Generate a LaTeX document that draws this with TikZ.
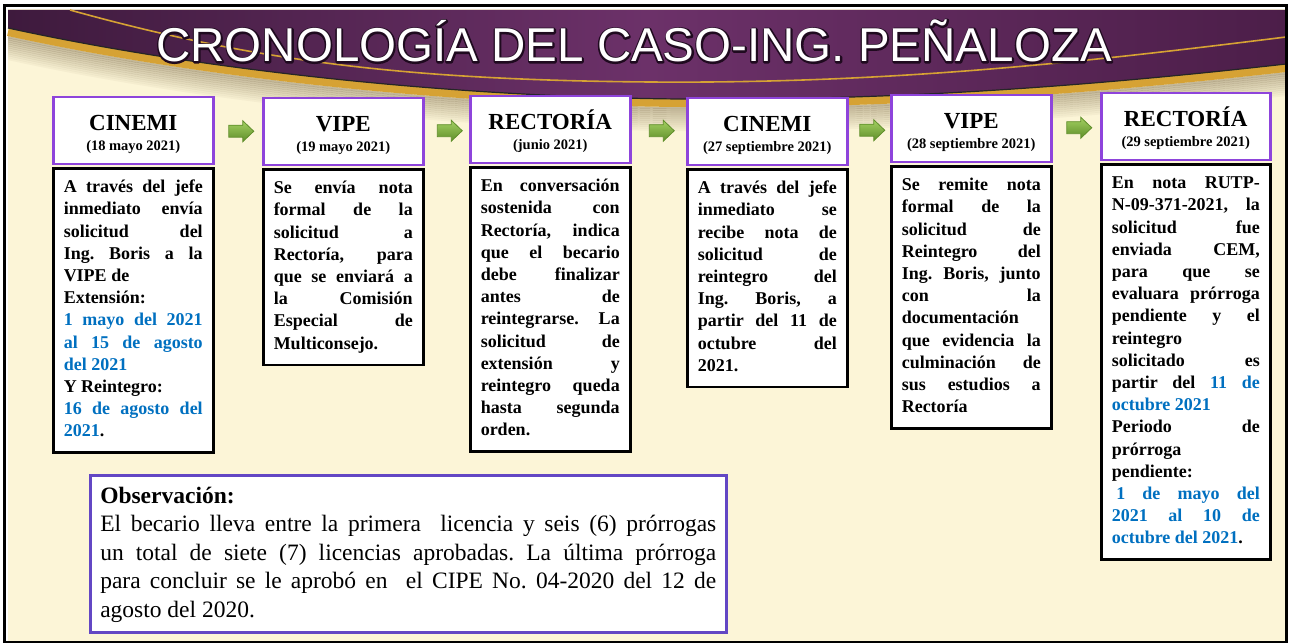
\documentclass[tikz,border=0pt]{standalone}
\usepackage{fontspec}
\setmainfont{Liberation Serif}
\newfontfamily\titlefont{Liberation Sans}
\usetikzlibrary{calc}

\definecolor{cream}{HTML}{FCF5D7}
\definecolor{hdrpurple}{HTML}{8E44DB}
\definecolor{obsviolet}{HTML}{6347C4}
\definecolor{datblue}{HTML}{0070C0}
\definecolor{banleft}{HTML}{3E1A3D}
\definecolor{banmid}{HTML}{6C3169}
\definecolor{banright}{HTML}{4C1E49}
\definecolor{gold}{HTML}{D6A234}
\definecolor{golddark}{HTML}{A8701F}
\definecolor{arrlight}{HTML}{A3D061}
\definecolor{arrdark}{HTML}{5F8E2A}

\newcommand\bannercurve{(8,-28) .. controls (200,-70) and (450,-97) .. (680,-99) .. controls (900,-101) and (1100,-85) .. (1286,-64)}
\newcommand\azul[1]{\textcolor{datblue}{#1}}
\newcommand\fecha[1]{{\fontsize{14.5}{20}\selectfont\spaceskip=0.24em\relax(#1)}}
\newcommand\strokedtext[1]{\special{pdf:literal direct 1 Tr 0.12 0.04 0.12 RG 3.2 w 1 j}#1\special{pdf:literal direct 0 Tr}}

\tolerance=10000
\hyphenpenalty=10000
\exhyphenpenalty=10000
\frenchspacing

\tikzset{
    hdr/.style={draw=hdrpurple, line width=2.5, fill=white, anchor=north west,
        minimum width=160, minimum height=67, text width=150, align=center,
        inner xsep=0, inner ysep=0, text height=33, text depth=34,
        font=\fontsize{23}{20}\selectfont\bfseries},
    body/.style={draw=black, line width=2.5, fill=white, anchor=north,
        text width=139, inner xsep=10.5, inner ysep=9, text height=15, align=justify,
        font=\fontsize{18}{22.2}\selectfont\bfseries},
    garrow/.style={top color=arrlight, bottom color=arrdark, draw=arrdark, line width=0.8, line join=miter},
    obs/.style={draw=obsviolet, line width=2.5, fill=white, anchor=north west,
        text width=616, inner xsep=10, inner ysep=10, text height=18, align=justify,
        font=\fontsize{23.5}{28.5}\selectfont},
    ttl/.style={font=\titlefont\fontsize{47.5}{50}\selectfont, anchor=base, inner sep=0}
}

\begin{document}
\begin{tikzpicture}[x=1pt, y=1pt]
    \useasboundingbox (0,0) rectangle (1289,-644);
    \fill[white] (0,0) rectangle (1289,-644);
    \fill[cream] (8,-9) rectangle (1286,-641);

    \foreach \k in {0,...,11} {
        \pgfmathsetmacro\op{0.3-0.024*\k}
        \draw[line width=2.2, draw=golddark!40!black, opacity=\op, yshift=-9-2*\k] \bannercurve;
    }
    \draw[line width=8, gold, yshift=-4] \bannercurve;
    \shade[left color=banleft, right color=banright, middle color=banmid]
        \bannercurve -- (1286,-10) -- (8,-10) -- cycle;
    \draw[line width=1.2, black!85] \bannercurve;
    \draw[gold, line width=1.6]
        (70,-10) .. controls (250,-60) and (400,-80) .. (650,-82)
        .. controls (900,-84) and (1100,-60) .. (1286,-37);

    \node[ttl] (titleedge) at (634,-62) {\strokedtext{CRONOLOGÍA DEL CASO-ING. PEÑALOZA}};
    \node[ttl, text=white] (title) at (titleedge.base) {CRONOLOGÍA DEL CASO-ING. PEÑALOZA};

    \node[hdr] (h1) at (52,-96) {CINEMI\\\fecha{18 mayo 2021}};
    \node[hdr] (h2) at (262,-97) {VIPE\\\fecha{19 mayo 2021}};
    \node[hdr] (h3) at (469,-95) {RECTORÍA\\\fecha{junio 2021}};
    \node[hdr] (h4) at (686,-97) {CINEMI\\\fecha{27 septiembre 2021}};
    \node[hdr] (h5) at (890,-94) {VIPE\\\fecha{28 septiembre 2021}};
    \node[hdr, minimum width=169] (h6) at (1100,-92) {RECTORÍA\\\fecha{29 septiembre 2021}};

    \node[body] (b1) at ([yshift=-2]h1.south) {A través del jefe\linebreak
        inmediato envía\linebreak solicitud del\linebreak Ing. Boris a la\linebreak
        VIPE de\\ Extensión:\\
        \azul{1 mayo del 2021\linebreak al 15 de agosto\linebreak del 2021}\\
        Y Reintegro:\\ \azul{16 de agosto del\linebreak 2021}.\strut};
    \node[body] (b2) at ([yshift=-2]h2.south) {Se envía nota\linebreak
        formal de la\linebreak solicitud a\linebreak Rectoría, para\linebreak
        que se enviará a\linebreak la Comisión\linebreak Especial de\linebreak
        Multiconsejo.\strut};
    \node[body] (b3) at ([yshift=-2]h3.south) {En conversación\linebreak
        sostenida con\linebreak Rectoría, indica\linebreak que el becario\linebreak
        debe finalizar\linebreak antes de\linebreak reintegrarse. La\linebreak
        solicitud de\linebreak extensión y\linebreak reintegro queda\linebreak
        hasta segunda\linebreak orden.\strut};
    \node[body] (b4) at ([yshift=-2]h4.south) {A través del jefe\linebreak
        inmediato se\linebreak recibe nota de\linebreak solicitud de\linebreak
        reintegro del\linebreak Ing. Boris, a\linebreak partir del 11 de\linebreak
        octubre del\linebreak 2021.\strut};
    \node[body] (b5) at ([yshift=-2]h5.south) {Se remite nota\linebreak
        formal de la\linebreak solicitud de\linebreak Reintegro del\linebreak
        Ing. Boris, junto\linebreak con la\linebreak documentación\\
        que evidencia la\linebreak culminación de\linebreak sus estudios a\linebreak
        Rectoría\strut};
    \node[body, text width=148] (b6) at ([yshift=-2]h6.south) {En nota RUTP-\linebreak
        N-09-371-2021, la\linebreak solicitud fue\linebreak enviada CEM,\linebreak
        para que se\linebreak evaluara prórroga\linebreak pendiente y el\linebreak
        reintegro\\ solicitado es\linebreak partir del \azul{11 de\linebreak octubre 2021}\\
        Periodo de\linebreak prórroga\\ pendiente:\\
        \hspace*{4.5pt}\azul{1 de mayo del\linebreak 2021 al 10 de\linebreak octubre del 2021}.\strut};

    \foreach \i/\j in {1/2, 2/3, 3/4, 4/5, 5/6} {
        \coordinate (a\i) at ($(h\i.east)!0.5!(h\j.west)+(3,0)$);
        \shade[garrow] ($(a\i)+(-12.5,6)$) -- ++(14,0) -- ++(0,4.5) -- ++(11,-10.5)
            -- ++(-11,-10.5) -- ++(0,4.5) -- ++(-14,0) -- cycle;
    }

    \node[obs] (obs) at (89,-474) {\textbf{Observación:}\\
        El becario lleva entre la primera \ licencia y seis (6) prórrogas\linebreak
        un total de siete (7) licencias aprobadas. La última prórroga\linebreak
        para concluir se le aprobó en \ el CIPE No. 04-2020 del 12 de\linebreak
        agosto del 2020.};

    \draw[line width=2.5] (4.5,-5.5) rectangle (1286.5,-642);
\end{tikzpicture}
\end{document}
